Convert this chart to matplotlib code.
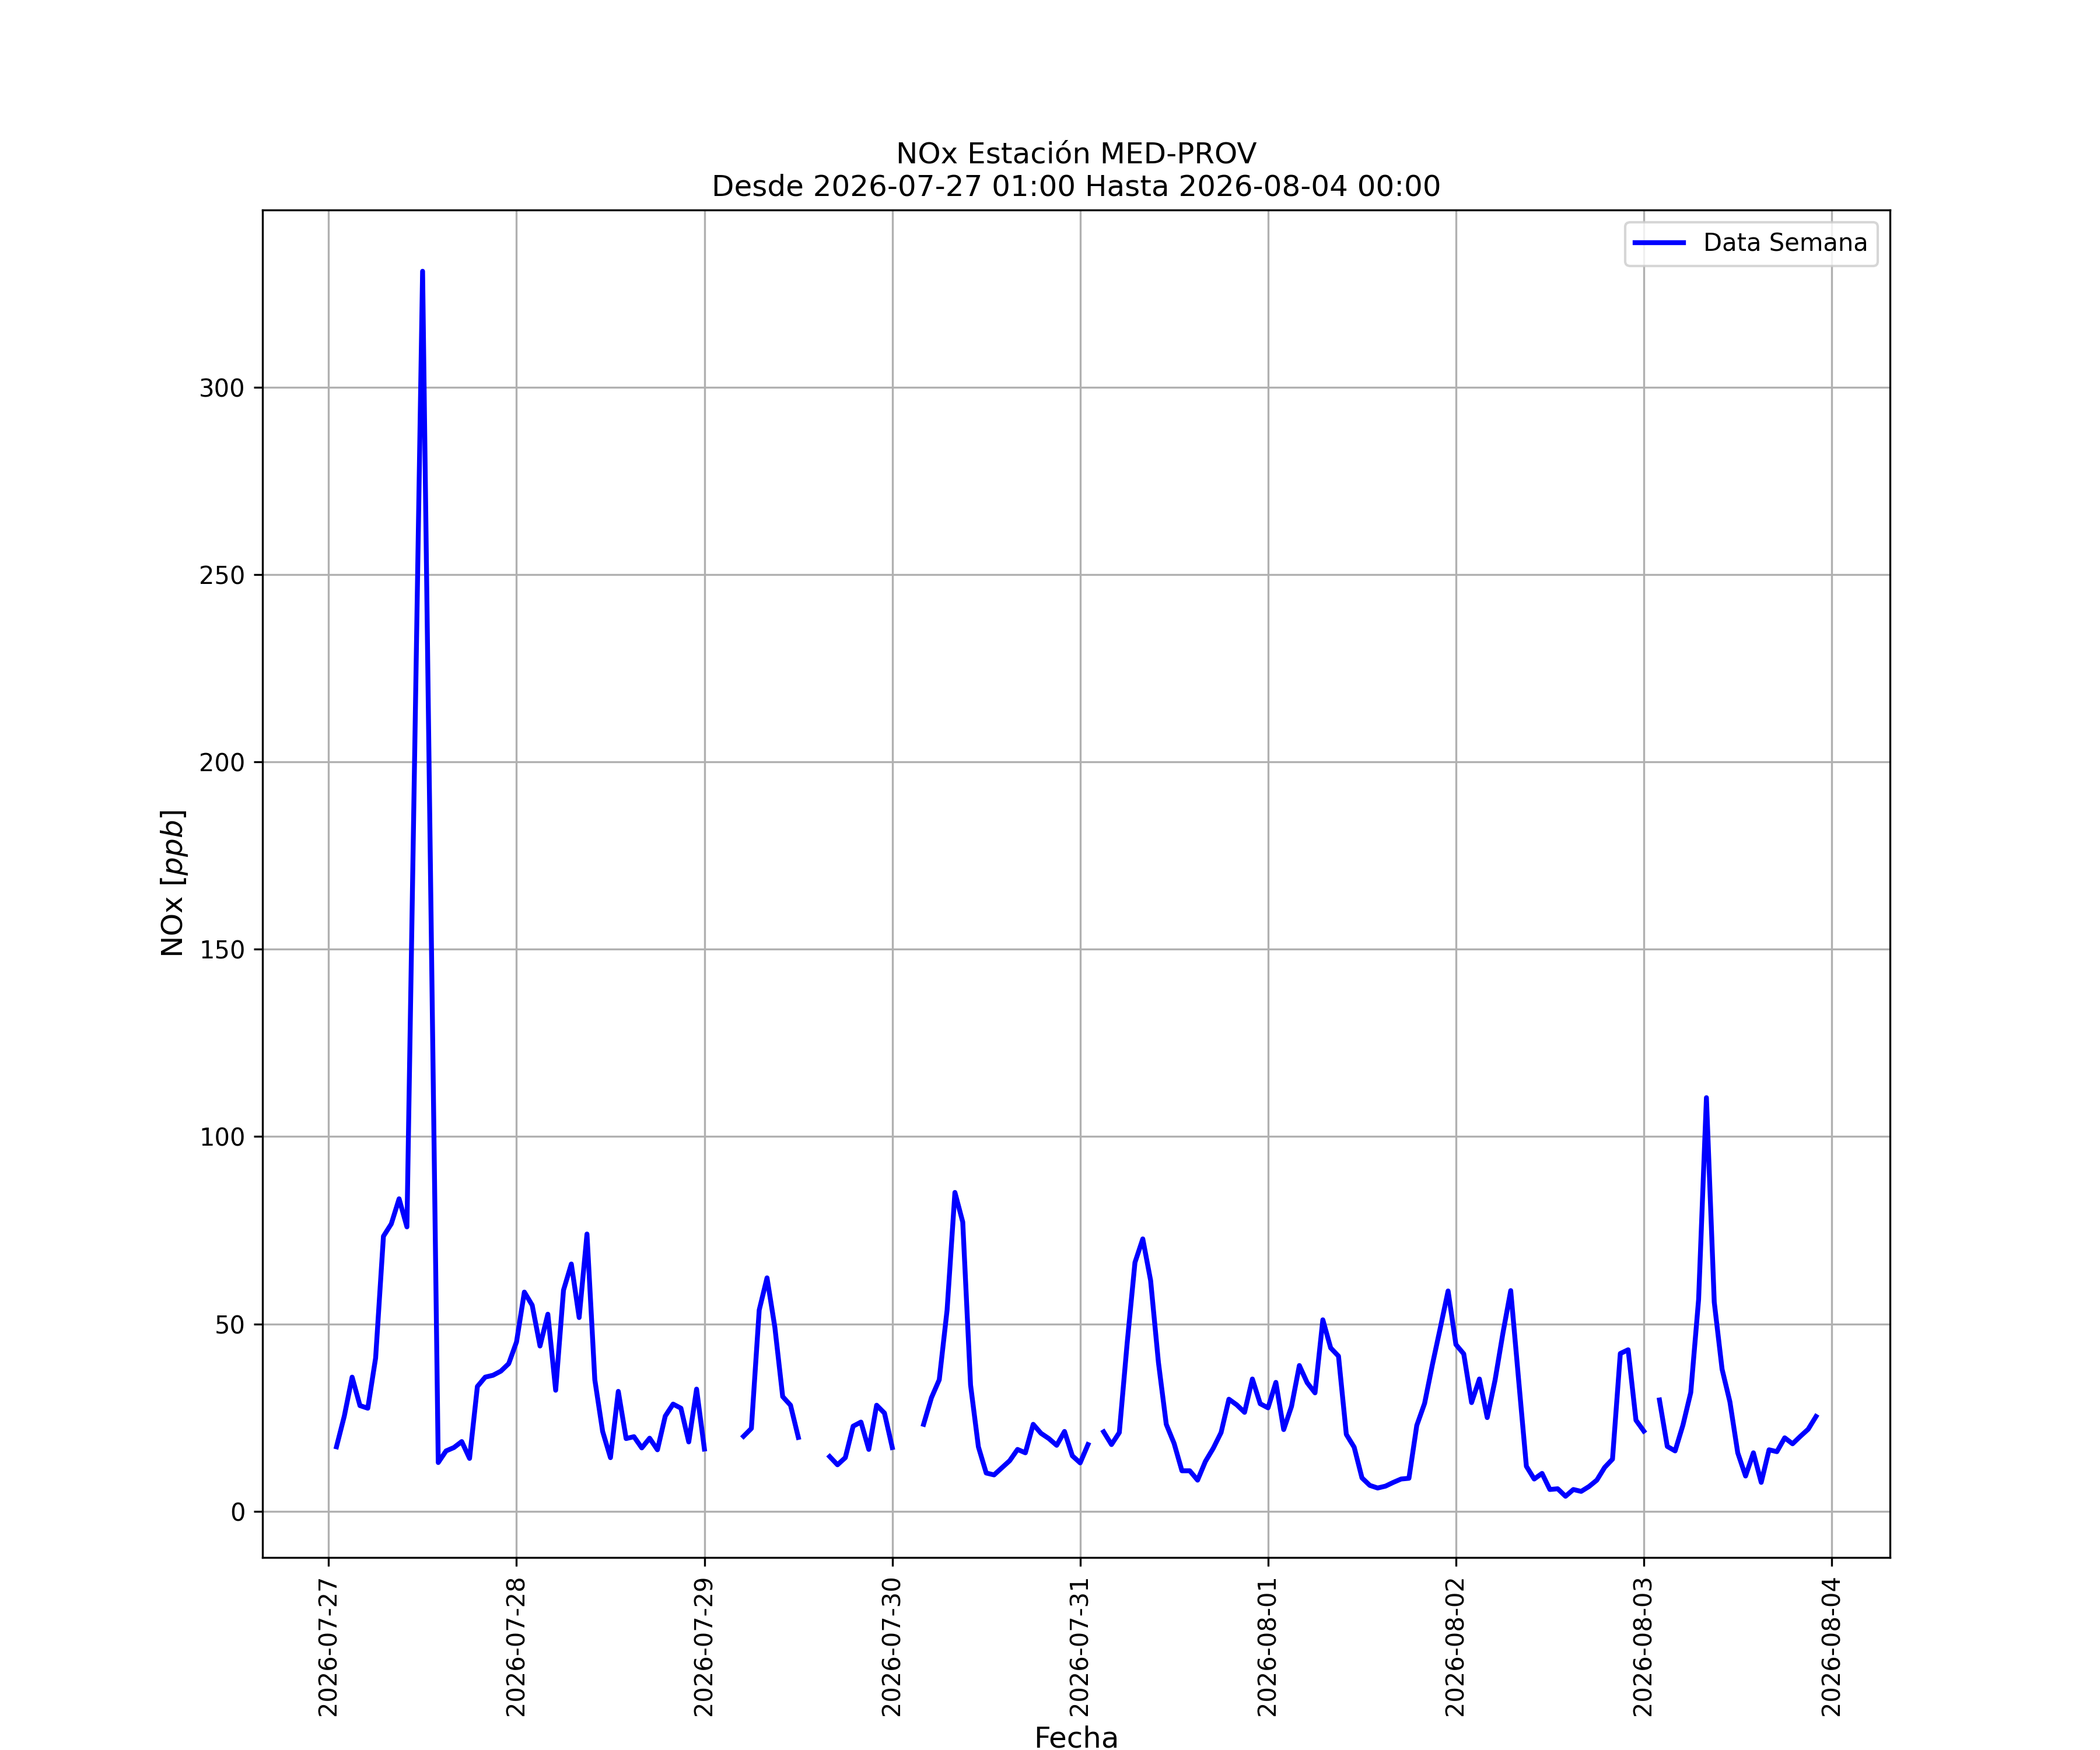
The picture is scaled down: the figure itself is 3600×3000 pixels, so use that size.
import numpy as np
import pandas as pd
import matplotlib
matplotlib.use("Agg")
import matplotlib.pyplot as plt
import matplotlib.dates as mdates

nan = np.nan

# Hourly NOx values [ppb]; first list starts at 2026-07-27 01:00, the others at 00:00
d0727 = [17.2, 25.4, 35.8, 28.2, 27.5, 40.9, 73.4, 76.7, 83.4, 75.9, 203.5, 331.0,
         172.0, 13.0, 16.1, 17.0, 18.6, 14.1, 33.3, 35.8, 36.3, 37.4, 39.4]
d0728 = [45.2, 58.5, 55.0, 44.1, 52.6, 32.3, 59.0, 66.0, 51.7, 74.0, 35.1, 21.3,
         14.3, 32.0, 19.4, 19.9, 16.9, 19.5, 16.4, 25.4, 28.6, 27.5, 18.5, 32.6]
d0729 = [16.6, nan, nan, nan, nan, 20.0, 22.1, 53.7, 62.3, 49.1, 30.6, 28.3,
         19.7, nan, nan, nan, 14.6, 12.4, 14.3, 22.7, 23.8, 16.5, 28.3, 26.2]
d0730 = [17.0, nan, nan, nan, 23.2, 30.3, 35.1, 53.7, 85.1, 77.2, 33.7, 17.2,
         10.2, 9.7, 11.6, 13.5, 16.5, 15.6, 23.2, 20.8, 19.4, 17.6, 21.3, 14.8]
d0731 = [12.9, 17.8, nan, 21.2, 17.8, 21.0, 44.8, 66.4, 72.7, 61.6, 39.7, 23.2,
         18.1, 10.8, 10.8, 8.3, 13.3, 16.8, 21.0, 29.9, 28.4, 26.4, 35.3, 28.7]
d0801 = [27.6, 34.4, 21.8, 28.0, 38.9, 34.3, 31.6, 51.1, 43.6, 41.4, 20.5, 17.1,
         8.9, 6.9, 6.2, 6.7, 7.7, 8.6, 8.8, 22.9, 28.8, 39.2, 48.9, 58.8]
d0802 = [44.5, 42.0, 29.0, 35.3, 25.0, 35.0, 47.5, 58.9, 35.3, 12.0, 8.6, 10.1,
         5.8, 6.0, 4.0, 5.8, 5.3, 6.6, 8.3, 11.7, 13.9, 42.1, 43.1, 24.3]
d0803 = [21.4, nan, 29.7, 17.3, 16.1, 23.0, 31.7, 56.5, 110.4, 55.8, 37.9, 29.2,
         15.6, 9.4, 15.6, 7.7, 16.4, 15.9, 19.6, 18.0, 20.0, 21.9, 25.3, nan]
d0804 = [nan]

values = d0727 + d0728 + d0729 + d0730 + d0731 + d0801 + d0802 + d0803 + d0804
fechas = pd.date_range("2026-07-27 01:00", periods=len(values), freq="h")

titulo = "NOx Estación MED-PROV\nDesde 2026-07-27 01:00 Hasta 2026-08-04 00:00"

fig, ax = plt.subplots(figsize=(12, 10), dpi=300)
ax.plot(fechas, values, color="blue", linewidth=2, label="Data Semana")
ax.set_title(titulo, fontsize=12)
ax.set_xlabel("Fecha", fontsize=12)
ax.set_ylabel("NOx [$ppb$]", fontsize=12)
ax.xaxis.set_major_locator(mdates.DayLocator())
ax.xaxis.set_major_formatter(mdates.DateFormatter("%Y-%m-%d"))
plt.setp(ax.get_xticklabels(), rotation=90)
ax.grid(True)
ax.legend(loc="upper right")
fig.savefig("out.png", dpi=300)
